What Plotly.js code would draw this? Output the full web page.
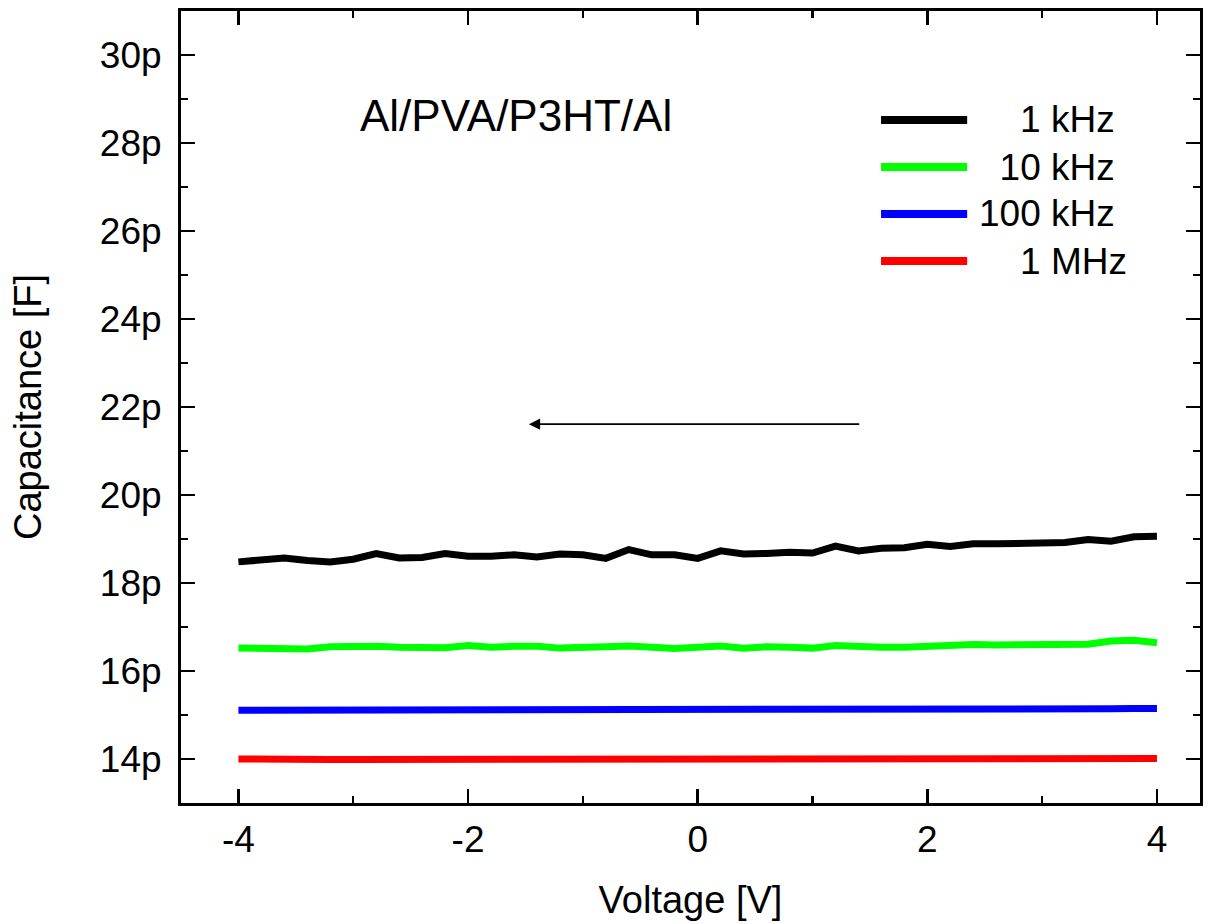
<!DOCTYPE html>
<html>
<head>
<meta charset="utf-8">
<script src="https://cdn.plot.ly/plotly-3.0.1.min.js"></script>
<style>html,body{margin:0;padding:0;background:#fff;}#chart{width:1211px;height:924px;}</style>
</head>
<body>
<div id="chart"></div>
<script>
var voltage = [-4.0,-3.8,-3.6,-3.4,-3.2,-3.0,-2.8,-2.6,-2.4,-2.2,-2.0,-1.8,-1.6,-1.4,-1.2,-1.0,-0.8,-0.6,-0.4,-0.2,0.0,0.2,0.4,0.6,0.8,1.0,1.2,1.4,1.6,1.8,2.0,2.2,2.4,2.6,2.8,3.0,3.2,3.4,3.6,3.8,4.0];
// capacitance in pF
var c1kHz = [18.48,18.52,18.57,18.51,18.48,18.54,18.67,18.57,18.58,18.67,18.61,18.61,18.64,18.59,18.66,18.64,18.56,18.76,18.64,18.64,18.56,18.73,18.66,18.67,18.70,18.68,18.84,18.73,18.79,18.80,18.88,18.83,18.89,18.89,18.89,18.89,18.92,18.99,18.95,19.05,19.06];
var c10kHz = [16.52,16.52,16.52,16.50,16.55,16.56,16.56,16.54,16.545,16.53,16.58,16.54,16.56,16.56,16.52,16.55,16.55,16.57,16.53,16.51,16.54,16.57,16.52,16.55,16.54,16.52,16.58,16.55,16.54,16.54,16.555,16.60,16.60,16.59,16.60,16.58,16.61,16.61,16.68,16.70,16.64];
var c100kHz = [15.11,15.11,15.11,15.11,15.11,15.11,15.11,15.11,15.11,15.11,15.11,15.11,15.11,15.11,15.11,15.11,15.11,15.11,15.11,15.11,15.11,15.11,15.11,15.11,15.11,15.12,15.12,15.12,15.12,15.12,15.12,15.13,15.13,15.13,15.13,15.13,15.14,15.14,15.14,15.15,15.15];
var c1MHz = [14.00,13.99,13.99,13.99,13.99,13.99,13.99,13.99,13.99,13.99,13.99,13.99,13.99,14.00,13.99,13.99,13.99,13.99,13.99,13.99,13.99,13.99,14.00,13.99,14.00,14.00,14.00,13.99,14.00,14.00,14.00,14.00,14.00,14.00,14.01,14.00,14.01,14.00,14.01,14.01,14.01];

var seriesNames = ['1 kHz','10 kHz','100 kHz','1 MHz'];
var seriesPad = ['\u00a0\u00a0\u00a0\u00a0','\u00a0\u00a0','','\u00a0\u00a0\u00a0\u00a0'];
var seriesColors = ['#000000','#00ff00','#0000ff','#ff0000'];
var seriesData = [c1kHz, c10kHz, c100kHz, c1MHz];

var yTickVals = [14,16,18,20,22,24,26,28,30];
var xTickVals = [-4,-2,0,2,4];

var FONT = 'Liberation Sans, Arial, sans-serif';

var traces = seriesData.map(function(d, i){
  return {x: voltage, y: d, type: 'scatter', mode: 'lines', name: seriesNames[i],
          line: {color: seriesColors[i], width: 7}, showlegend: false};
});

var shapes = [];
var annotations = [];
var legendY = [0.8624, 0.8030, 0.7437, 0.6843];
seriesNames.forEach(function(n, i){
  shapes.push({type: 'line', xref: 'paper', yref: 'paper', x0: 0.687, x1: 0.7715,
               y0: legendY[i], y1: legendY[i], line: {color: seriesColors[i], width: 8}});
  annotations.push({xref: 'paper', yref: 'paper', x: 0.7815, y: legendY[i], xanchor: 'left', yanchor: 'middle',
                    text: seriesPad[i] + n, showarrow: false, font: {family: FONT, size: 37, color: '#000'}});
});
annotations.push({xref: 'x', yref: 'y', x: -1.585, y: 28.62, xanchor: 'center', yanchor: 'middle',
                  text: 'Al/PVA/P3HT/Al', showarrow: false, font: {family: FONT, size: 44, color: '#000'}});
annotations.push({xref: 'x', yref: 'y', axref: 'x', ayref: 'y', x: -1.47, y: 21.61, ax: 1.42, ay: 21.61,
                  text: '', showarrow: true, arrowhead: 2, arrowsize: 1.4, arrowwidth: 1.6, arrowcolor: '#000'});

var layout = {
  width: 1211, height: 924,
  margin: {l: 181, r: 11, t: 11, b: 121},
  paper_bgcolor: '#fff', plot_bgcolor: '#fff',
  showlegend: false,
  font: {family: FONT, color: '#000'},
  xaxis: {
    range: [-4.5, 4.375], tickvals: xTickVals, ticktext: xTickVals.map(String),
    ticks: 'inside', ticklen: 14, tickwidth: 2.5, tickcolor: '#000',
    minor: {dtick: 1, tick0: 0, ticks: 'inside', ticklen: 7, tickwidth: 2.5, tickcolor: '#000'},
    showline: true, linewidth: 3, linecolor: '#000', mirror: 'allticks',
    showgrid: false, zeroline: false,
    tickfont: {family: FONT, size: 37, color: '#000'},
    ticklabelstandoff: 2,
    title: {text: 'Voltage [V]', font: {family: FONT, size: 38, color: '#000'}, standoff: 27}
  },
  yaxis: {
    range: [13, 31], tickvals: yTickVals, ticktext: yTickVals.map(function(v){return v + 'p';}),
    ticks: 'inside', ticklen: 14, tickwidth: 2.5, tickcolor: '#000',
    minor: {dtick: 1, tick0: 0, ticks: 'inside', ticklen: 7, tickwidth: 2.5, tickcolor: '#000'},
    showline: true, linewidth: 3, linecolor: '#000', mirror: 'allticks',
    showgrid: false, zeroline: false,
    tickfont: {family: FONT, size: 37, color: '#000'},
    ticklabelstandoff: 9,
    title: {text: 'Capacitance [F]', font: {family: FONT, size: 38, color: '#000'}, standoff: 47}
  },
  shapes: shapes,
  annotations: annotations
};

Plotly.newPlot('chart', traces, layout, {displayModeBar: false, staticPlot: true});
</script>
</body>
</html>
